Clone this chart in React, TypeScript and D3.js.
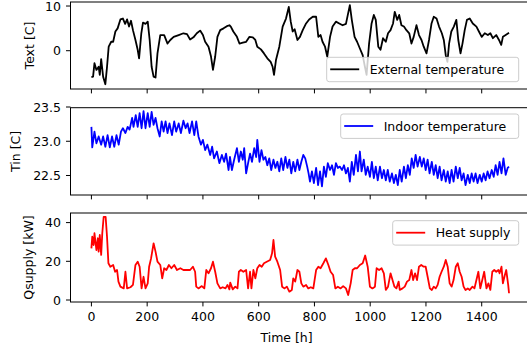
import * as d3 from "d3";

// [hour, value]
const externalTemp: [number, number][] = [
  [0, -5.9], [6, -5.8], [11, -2.8], [18, -4.3], [26, -3.6], [30, -5.4], [35, -1.9], [42, -5.8],
  [50, -7.5], [56, -3.6], [62, 0.9], [71, 2.0], [78, 2.0], [86, 4.3], [94, 5.0], [104, 7.0],
  [113, 7.2], [121, 6.0], [128, 7.0], [135, 5.4], [142, 6.7], [149, 4.6], [158, 2.4], [166, 0.2],
  [171, -1.7], [179, 3.9], [185, 6.3], [194, 6.0], [202, 6.5], [209, 2.4], [216, -3.6], [223, -5.8],
  [230, -6.0], [237, -0.6], [247, 3.5], [261, 3.5], [273, 1.6], [283, 2.4], [295, 3.1], [313, 3.5],
  [330, 3.9], [343, 3.7], [354, 2.5], [366, 3.0], [378, 3.9], [390, 4.5], [400, 3.5], [408, 2.0],
  [420, 0.9], [429, -1.3], [436, -4.3], [444, -1.3], [452, 3.1], [462, 4.6], [474, 5.0], [486, 5.5],
  [495, 5.7], [500, 5.4], [509, 4.3], [522, 3.1], [531, 1.6], [543, 1.8], [555, 2.0], [567, 3.1],
  [579, 3.0], [588, 2.4], [595, 0.9], [608, 0.3], [619, -0.6], [631, -1.7], [643, -2.5], [650, -3.6],
  [655, -5.4], [662, -2.1], [674, 0.9], [686, 5.4], [698, 7.2], [708, 9.8], [715, 6.5], [722, 4.3],
  [729, 4.8], [739, 2.4], [748, 3.1], [758, 4.6], [770, 6.1], [781, 7.0], [794, 7.6], [806, 7.6],
  [814, 3.1], [822, 3.5], [829, 2.0], [838, 0.9], [846, -1.3], [856, 3.1], [865, 5.4], [877, 6.5],
  [889, 6.1], [901, 5.7], [913, 6.0], [921, 8.4], [927, 10.2], [934, 6.9], [944, 3.1], [953, 2.0],
  [963, 0.5], [973, -1.0], [981, -3.6], [987, -5.4], [996, 1.6], [1005, 6.1], [1013, 8.0], [1020, 6.9],
  [1029, 0.9], [1037, 0.2], [1046, 2.8], [1056, 2.0], [1064, 3.9], [1073, 4.6], [1082, 6.1], [1088, 8.7],
  [1097, 6.9], [1104, 8.0], [1112, 5.7], [1121, 5.4], [1130, 4.6], [1140, 3.9], [1148, 1.6], [1156, 3.1],
  [1166, 5.7], [1175, 3.5], [1184, 2.4], [1192, 0.9], [1202, -0.6], [1211, 2.4], [1220, 6.1], [1228, 7.6],
  [1238, 7.2], [1247, 5.4], [1257, 3.9], [1264, 2.4], [1271, -1.0], [1277, -2.5], [1283, 1.6], [1291, 4.3],
  [1300, 5.4], [1309, 6.9], [1316, 2.4], [1324, -0.6], [1331, 1.6], [1339, 4.6], [1347, 6.9], [1357, 7.2],
  [1368, 6.1], [1381, 5.4], [1390, 4.3], [1400, 3.1], [1411, 3.9], [1422, 3.5], [1431, 3.9], [1440, 2.8],
  [1452, 3.5], [1462, 2.4], [1470, 1.3], [1476, 3.1], [1486, 3.5], [1498, 4.0],
];

const indoorTemp: [number, number][] = [
  [0, 23.21], [3, 22.91], [11, 23.14], [18, 22.97], [26, 23.07], [35, 22.95], [42, 23.07], [50, 22.92],
  [58, 23.09], [66, 22.91], [74, 23.07], [82, 22.92], [90, 23.09], [98, 22.95], [106, 23.14], [113, 23.19],
  [122, 23.12], [130, 23.21], [137, 23.17], [146, 23.34], [151, 23.21], [159, 23.38], [166, 23.21], [173, 23.41],
  [180, 23.19], [187, 23.44], [194, 23.19], [202, 23.41], [209, 23.21], [216, 23.43], [223, 23.24], [230, 23.34],
  [237, 23.19], [245, 23.07], [252, 23.29], [259, 23.14], [266, 23.29], [273, 23.12], [280, 23.26], [289, 23.09],
  [297, 23.29], [304, 23.14], [313, 23.26], [321, 23.12], [330, 23.3], [338, 23.19], [345, 23.26], [352, 23.12],
  [361, 23.29], [369, 23.09], [376, 23.29], [384, 23.07], [393, 22.95], [400, 23.02], [408, 22.87], [416, 22.95],
  [426, 22.8], [433, 22.92], [440, 22.75], [450, 22.85], [459, 22.68], [468, 22.8], [476, 22.7], [483, 22.82],
  [492, 22.58], [497, 22.77], [504, 22.58], [512, 22.73], [522, 22.9], [529, 22.7], [536, 22.85], [543, 22.73],
  [548, 22.9], [555, 22.53], [562, 22.68], [569, 22.82], [576, 22.7], [584, 22.9], [591, 22.77], [595, 23.02],
  [603, 22.7], [610, 22.87], [617, 22.73], [624, 22.77], [631, 22.65], [638, 22.75], [645, 22.58], [653, 22.73],
  [660, 22.61], [667, 22.7], [674, 22.56], [681, 22.75], [688, 22.58], [696, 22.77], [703, 22.61], [710, 22.73],
  [717, 22.53], [724, 22.7], [731, 22.56], [739, 22.73], [746, 22.58], [753, 22.7], [760, 22.8], [767, 22.75],
  [774, 22.63], [779, 22.53], [784, 22.41], [791, 22.56], [798, 22.39], [806, 22.61], [813, 22.36], [820, 22.56],
  [827, 22.34], [834, 22.63], [841, 22.48], [848, 22.68], [856, 22.58], [863, 22.65], [870, 22.51], [877, 22.68],
  [884, 22.61], [891, 22.63], [899, 22.58], [906, 22.65], [913, 22.53], [920, 22.61], [927, 22.41], [934, 22.7],
  [941, 22.51], [949, 22.8], [956, 22.56], [963, 22.85], [969, 22.56], [977, 22.73], [984, 22.51], [991, 22.63],
  [999, 22.48], [1006, 22.7], [1013, 22.46], [1020, 22.63], [1027, 22.43], [1035, 22.63], [1042, 22.46], [1049, 22.58],
  [1056, 22.43], [1063, 22.58], [1070, 22.41], [1078, 22.53], [1085, 22.39], [1092, 22.51], [1099, 22.36], [1106, 22.58],
  [1113, 22.41], [1121, 22.63], [1128, 22.46], [1135, 22.65], [1142, 22.51], [1149, 22.75], [1156, 22.61], [1163, 22.8],
  [1170, 22.63], [1178, 22.77], [1185, 22.63], [1192, 22.75], [1199, 22.58], [1206, 22.73], [1213, 22.53], [1221, 22.7],
  [1228, 22.51], [1235, 22.65], [1242, 22.46], [1249, 22.63], [1256, 22.43], [1264, 22.58], [1271, 22.41], [1278, 22.56],
  [1285, 22.39], [1292, 22.58], [1299, 22.41], [1307, 22.63], [1314, 22.46], [1321, 22.61], [1328, 22.43], [1335, 22.53],
  [1342, 22.36], [1350, 22.51], [1357, 22.39], [1364, 22.53], [1371, 22.41], [1378, 22.53], [1385, 22.39], [1393, 22.51],
  [1400, 22.41], [1407, 22.53], [1414, 22.43], [1421, 22.56], [1428, 22.46], [1436, 22.58], [1443, 22.48], [1450, 22.65],
  [1457, 22.51], [1464, 22.7], [1471, 22.53], [1478, 22.75], [1486, 22.51], [1493, 22.61], [1498, 22.63],
];

const heatSupply: [number, number][] = [
  [0, 26.7], [3, 32.7], [8, 28.4], [11, 34.5], [18, 25.8], [23, 31.9], [26, 25.0], [30, 33.6],
  [35, 23.3], [39, 34.5], [44, 43.0], [51, 43.0], [56, 32.7], [61, 19.0], [68, 17.2], [78, 18.1],
  [85, 14.6], [92, 15.5], [97, 9.5], [104, 6.9], [116, 6.0], [122, 14.6], [128, 6.0], [140, 6.6],
  [149, 7.8], [158, 18.1], [166, 19.8], [173, 17.2], [180, 6.0], [187, 12.0], [194, 6.0], [202, 8.6],
  [207, 17.2], [214, 21.5], [223, 29.3], [230, 25.0], [237, 19.8], [247, 18.1], [254, 11.2], [261, 16.4],
  [269, 15.5], [278, 18.1], [287, 16.4], [297, 18.1], [307, 15.5], [319, 16.4], [330, 15.5], [343, 15.5],
  [354, 15.5], [364, 17.2], [372, 14.6], [376, 6.9], [384, 6.0], [396, 7.2], [405, 6.0], [412, 15.5],
  [420, 13.8], [429, 16.4], [436, 19.8], [444, 14.6], [452, 8.6], [462, 6.0], [471, 6.6], [481, 6.0],
  [488, 7.8], [495, 5.5], [498, 9.0], [507, 5.5], [516, 6.9], [524, 6.0], [529, 14.6], [536, 15.5],
  [545, 14.6], [555, 15.5], [562, 6.0], [569, 14.6], [574, 6.0], [581, 15.5], [588, 11.2], [595, 16.4],
  [603, 18.1], [611, 17.2], [619, 19.0], [629, 19.8], [641, 20.7], [648, 24.1], [653, 31.0], [659, 22.4],
  [667, 19.8], [677, 15.5], [684, 6.9], [693, 6.0], [701, 6.9], [710, 4.3], [719, 5.2], [724, 11.2],
  [731, 9.5], [739, 15.5], [746, 14.6], [753, 8.6], [760, 6.9], [770, 7.8], [778, 6.0], [787, 6.6],
  [796, 6.0], [806, 15.5], [814, 17.2], [822, 16.4], [832, 19.0], [841, 21.5], [850, 18.1], [858, 14.6],
  [867, 12.9], [875, 6.0], [884, 6.9], [894, 6.0], [903, 7.2], [913, 6.0], [921, 2.6], [930, 8.6],
  [937, 15.5], [945, 16.4], [953, 16.4], [963, 18.1], [973, 19.0], [982, 23.0], [991, 17.2], [999, 6.9],
  [1008, 6.0], [1017, 6.9], [1023, 16.4], [1032, 15.5], [1041, 16.4], [1049, 13.8], [1056, 5.2], [1064, 6.9],
  [1073, 13.8], [1080, 10.3], [1087, 6.9], [1094, 6.0], [1102, 9.5], [1106, 5.2], [1116, 6.0], [1124, 6.9],
  [1132, 9.5], [1140, 10.3], [1148, 15.5], [1154, 10.3], [1161, 13.8], [1168, 10.3], [1175, 17.2], [1183, 18.1],
  [1192, 17.2], [1199, 17.2], [1206, 12.0], [1214, 6.0], [1221, 5.2], [1228, 6.9], [1235, 6.0], [1242, 7.8],
  [1249, 12.0], [1256, 14.6], [1264, 17.2], [1271, 20.7], [1278, 17.2], [1285, 8.6], [1292, 6.9], [1299, 10.3],
  [1307, 17.2], [1314, 19.0], [1321, 14.6], [1328, 12.0], [1335, 6.9], [1342, 5.2], [1350, 6.0], [1357, 5.2],
  [1367, 6.9], [1374, 6.0], [1381, 10.3], [1388, 14.6], [1395, 6.0], [1402, 10.3], [1409, 14.6], [1417, 6.0],
  [1424, 8.6], [1431, 5.2], [1438, 14.6], [1445, 15.5], [1452, 14.6], [1460, 15.5], [1464, 13.8], [1471, 17.2],
  [1476, 8.6], [1483, 12.9], [1488, 15.5], [1495, 7.8], [1498, 3.5],
];

const xTicks = [0, 200, 400, 600, 800, 1000, 1200, 1400];
const textTicks = [0, 10];
const tinTicks = [22.5, 23.0, 23.5];
const qTicks = [0, 20, 40];

const FONT = "DejaVu Sans, sans-serif";
const FS = 12.5;
const W = 527;
const H = 351;

const xScale = d3.scaleLinear().domain([-75, 1575]).range([70.5, 530.5]);

const panels = [
  {
    id: "p1", top: 2, bottom: 89, domain: [-8.57, 10.9], ticks: textTicks, fmt: d3.format("d"),
    label: "Text [C]", labelX: 29, data: externalTemp, color: "#000000",
    legend: { name: "External temperature", x: 326.7, y: 57.3, w: 192 },
  },
  {
    id: "p2", top: 107.7, bottom: 195, domain: [22.215, 23.49], ticks: tinTicks, fmt: d3.format(".1f"),
    label: "Tin [C]", labelX: 15, data: indoorTemp, color: "#0000ff",
    legend: { name: "Indoor temperature", x: 340.7, y: 114, w: 178 },
  },
  {
    id: "p3", top: 213, bottom: 302, domain: [-1.03, 44.96], ticks: qTicks, fmt: d3.format("d"),
    label: "Qsupply [kW]", labelX: 28, data: heatSupply, color: "#ff0000",
    legend: { name: "Heat supply", x: 392.7, y: 220.7, w: 126 },
  },
];

const App = () => {
  return (
    <svg
      width={W}
      height={H}
      style={{ position: "absolute", left: 0, top: 0, background: "#fff" }}
      fontFamily={FONT}
    >
      <defs>
        {panels.map((p) => (
          <clipPath id={`clip-${p.id}`} key={p.id}>
            <rect x={70.5} y={p.top} width={460} height={p.bottom - p.top} />
          </clipPath>
        ))}
      </defs>
      {panels.map((p, pi) => {
        const y = d3.scaleLinear().domain(p.domain).range([p.bottom, p.top]);
        const line = d3
          .line<[number, number]>()
          .x((d) => xScale(d[0]))
          .y((d) => y(d[1]));
        const lg = p.legend;
        return (
          <g key={p.id}>
            <path
              d={line(p.data) || ""}
              fill="none"
              stroke={p.color}
              strokeWidth={1.8}
              strokeLinejoin="round"
              clipPath={`url(#clip-${p.id})`}
            />
            <rect
              x={70.5}
              y={p.top}
              width={460}
              height={p.bottom - p.top}
              fill="none"
              stroke="#000"
              strokeWidth={1}
            />
            {p.ticks.map((t) => (
              <g key={t}>
                <line x1={70.5} x2={66} y1={y(t)} y2={y(t)} stroke="#000" strokeWidth={1} />
                <text x={61} y={y(t)} dy="0.36em" textAnchor="end" fontSize={FS} fill="#000">
                  {p.fmt(t)}
                </text>
              </g>
            ))}
            {xTicks.map((t) => (
              <g key={t}>
                <line
                  x1={xScale(t)}
                  x2={xScale(t)}
                  y1={p.bottom}
                  y2={p.bottom + 4.4}
                  stroke="#000"
                  strokeWidth={1}
                />
                {pi === 2 && (
                  <text x={xScale(t)} y={321} textAnchor="middle" fontSize={FS} fill="#000">
                    {t}
                  </text>
                )}
              </g>
            ))}
            <text
              transform={`translate(${p.labelX},${(p.top + p.bottom) / 2}) rotate(-90)`}
              dy="0.36em"
              textAnchor="middle"
              fontSize={FS}
              fill="#000"
            >
              {p.label}
            </text>
            <g>
              <rect
                x={lg.x}
                y={lg.y}
                width={lg.w}
                height={24.4}
                rx={2.5}
                fill="#ffffff"
                fillOpacity={0.8}
                stroke="#cccccc"
                strokeWidth={1}
              />
              <line
                x1={lg.x + 3.5}
                x2={lg.x + 32.5}
                y1={lg.y + 12}
                y2={lg.y + 12}
                stroke={p.color}
                strokeWidth={1.8}
              />
              <text x={lg.x + 43} y={lg.y + 12} dy="0.36em" fontSize={FS} fill="#000">
                {lg.name}
              </text>
            </g>
          </g>
        );
      })}
      <text x={xScale(700)} y={342} textAnchor="middle" fontSize={FS} fill="#000">
        Time [h]
      </text>
    </svg>
  );
};

export default App;
